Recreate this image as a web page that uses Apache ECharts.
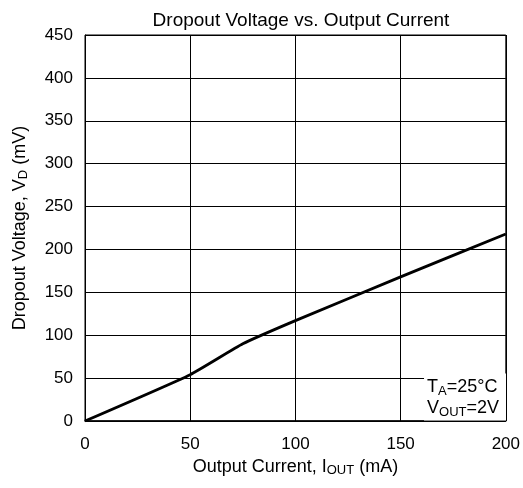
<!DOCTYPE html>
<html>
<head>
<meta charset="utf-8">
<script src="https://cdn.jsdelivr.net/npm/echarts@6/dist/echarts.min.js"></script>
<style>
  html, body { margin: 0; padding: 0; background: #fff; }
  #chart { width: 523px; height: 488px; }
</style>
</head>
<body>
<div id="chart"></div>
<script>
// output current (mA) and dropout voltage (mV)
const currents = [0, 50, 75, 100, 150, 200];
const dropout = [0, 54, 90, 117, 168, 218];
const xTicks = [0, 50, 100, 150, 200];
const yTicks = [0, 50, 100, 150, 200, 250, 300, 350, 400, 450];

const font = "Liberation Sans, Arial, sans-serif";
const nameRich = {
  n: { fontSize: 18, fontFamily: font, color: "#000", fontWeight: "normal" },
  s: { fontSize: 13, fontFamily: font, color: "#000", fontWeight: "normal", padding: [7, 0, 0, 0] },
};

const chart = echarts.init(document.getElementById("chart"));
chart.setOption({
  animation: false,
  title: [
    {
      text: "Dropout Voltage vs. Output Current",
      left: 296,
      top: 6,
      textAlign: "center",
      textStyle: { fontSize: 19, fontWeight: "normal", fontFamily: font, color: "#000" },
    },
    {
      text: "{n|T}{s|A}{n|=25°C}\n{n|V}{s|OUT}{n|=2V}",
      right: 17,
      bottom: 68,
      padding: [4, 7, 2, 3],
      backgroundColor: "#fff",
      textStyle: {
        align: "right",
        fontWeight: "normal",
        rich: {
          n: { fontSize: 18, fontFamily: font, color: "#000", fontWeight: "normal", lineHeight: 21 },
          s: { fontSize: 13, fontFamily: font, color: "#000", fontWeight: "normal", lineHeight: 21, padding: [7, 0, 0, 0] },
        },
      },
    },
  ],
  grid: {
    left: 85,
    right: 16,
    top: 35,
    bottom: 67,
    show: true,
    borderColor: "#000",
    borderWidth: 1,
  },
  xAxis: {
    type: "value",
    min: xTicks[0],
    max: xTicks[xTicks.length - 1],
    interval: 50,
    name: "{n|Output Current, I}{s|OUT}{n| (mA)}",
    nameLocation: "middle",
    nameGap: 36,
    nameTextStyle: { rich: nameRich },
    axisLine: { show: true, onZero: false, lineStyle: { color: "#000", width: 1.5 } },
    axisTick: { show: false },
    axisLabel: { fontSize: 17, fontFamily: font, color: "#000", margin: 15 },
    splitLine: { lineStyle: { color: "#000", width: 1 } },
  },
  yAxis: {
    type: "value",
    min: yTicks[0],
    max: yTicks[yTicks.length - 1],
    interval: 50,
    name: "{n|Dropout Voltage, V}{s|D}{n| (mV)}",
    nameLocation: "middle",
    nameRotate: 90,
    nameGap: 55,
    nameTextStyle: { rich: nameRich },
    axisLine: { show: true, onZero: false, lineStyle: { color: "#000", width: 1 } },
    axisTick: { show: false },
    axisLabel: { fontSize: 17, fontFamily: font, color: "#000", margin: 12 },
    splitLine: { lineStyle: { color: "#000", width: 1 } },
  },
  series: [
    {
      type: "line",
      data: currents.map((c, i) => [c, dropout[i]]),
      showSymbol: false,
      smooth: 0.15,
      lineStyle: { color: "#000", width: 2.8 },
      z: 1,
    },
  ],
});
</script>
</body>
</html>
